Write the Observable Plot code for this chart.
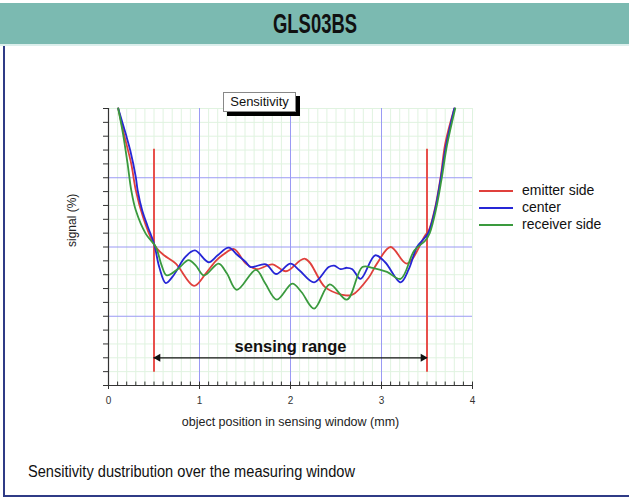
<!DOCTYPE html>
<html>
<head>
<meta charset="utf-8">
<script src="https://cdn.jsdelivr.net/npm/d3@7"></script>
<script src="https://cdn.jsdelivr.net/npm/@observablehq/plot@0.6"></script>
<style>
  body { margin: 0; width: 629px; height: 503px; position: relative; overflow: hidden; background: #fff; font-family: "Liberation Sans", Arial, sans-serif; }
  #header { position: absolute; left: 0; top: 3px; width: 629px; height: 41px; background: #7bbab1; border-bottom: 2px solid #dcefec; }
  #title { position: absolute; left: 50%; top: 50%; font-family: "Liberation Sans", Arial, sans-serif; font-weight: bold;
           font-size: 27px; color: #111; white-space: nowrap; line-height: 1; }
  #lborder { position: absolute; left: 3px; top: 46px; width: 2px; height: 451px; background: #2f3b86; }
  #bborder { position: absolute; left: 3px; top: 495px; width: 626px; height: 2px; background: #2f3b86; }
  #chart { position: absolute; left: 0; top: 50px; }
  #sbox { position: absolute; left: 223px; top: 92px; width: 71px; height: 18px; background: #fff; border: 1px solid #888;
          box-shadow: 4px 4px 0 #000; font-size: 13px; line-height: 18px; text-align: center; color: #111; }
  #legend { position: absolute; left: 479px; top: 182px; font-size: 14px; color: #111; }
  #legend .row { height: 17px; line-height: 17px; display: flex; align-items: center; }
  #legend .sw { width: 34px; height: 2px; margin-right: 9px; }
  #caption { position: absolute; left: 28px; top: 463px; font-family: "Liberation Sans", Arial, sans-serif;
             font-size: 16px; color: #111; white-space: nowrap; transform-origin: 0 0; }
</style>
</head>
<body>
<div id="header"><span id="title">GLS03BS</span></div>
<div id="lborder"></div>
<div id="bborder"></div>
<div id="chart"></div>
<div id="sbox">Sensitivity</div>
<div id="legend"></div>
<div id="caption">Sensitivity dustribution over the measuring window</div>
<script>
const seriesNames = ["emitter side", "center", "receiver side"];
const seriesColors = ["#e0403c", "#2626d6", "#3a9a3e"];

const emitterX = [0.107,0.17,0.25,0.30,0.38,0.48,0.53,0.61,0.74,0.94,1.07,1.18,1.27,1.38,1.51,1.63,1.80,1.95,2.16,2.38,2.57,2.68,2.86,2.95,3.10,3.28,3.48,3.52,3.59,3.65,3.70,3.80];
const emitterY = [4.0,3.63,3.2,2.82,2.43,2.09,1.98,1.88,1.76,1.44,1.62,1.80,1.90,1.97,1.76,1.68,1.75,1.65,1.83,1.42,1.31,1.31,1.56,1.76,2.0,1.76,2.17,2.24,2.57,3.01,3.49,4.0];

const centerX = [0.107,0.19,0.24,0.30,0.32,0.37,0.43,0.50,0.56,0.63,0.72,0.84,0.95,1.10,1.20,1.32,1.42,1.51,1.56,1.73,1.84,2.0,2.10,2.26,2.42,2.48,2.55,2.62,2.68,2.77,2.93,3.04,3.21,3.30,3.39,3.48,3.52,3.59,3.65,3.71,3.80];
const centerY = [4.0,3.63,3.39,3.01,2.82,2.53,2.30,2.05,1.70,1.48,1.60,1.85,1.95,1.78,1.88,1.99,1.88,1.78,1.71,1.75,1.61,1.76,1.66,1.49,1.71,1.73,1.68,1.70,1.68,1.54,1.88,1.78,1.49,1.68,2.0,2.14,2.22,2.55,2.98,3.47,4.0];

const receiverX = [0.107,0.16,0.21,0.25,0.30,0.41,0.52,0.58,0.64,0.76,0.88,0.96,1.05,1.21,1.30,1.41,1.62,1.72,1.85,2.02,2.12,2.26,2.43,2.62,2.79,2.90,3.06,3.21,3.36,3.48,3.53,3.60,3.66,3.72,3.81];
const receiverY = [4.0,3.63,3.20,2.82,2.53,2.19,2.0,1.75,1.59,1.68,1.81,1.73,1.59,1.76,1.62,1.38,1.67,1.48,1.24,1.47,1.35,1.11,1.46,1.24,1.71,1.70,1.64,1.54,1.95,2.09,2.20,2.55,2.98,3.47,4.0];

const xTicks = [0, 1, 2, 3, 4];
const majorGrid = [1, 2, 3];
const rangeEnds = [0.5, 3.5];
const rangeLineY = [0.19, 3.41];
const arrowY = 0.40;
const rangeLabel = "sensing range";
const rangeLabelY = 0.563;

const rows = [];
[[emitterX, emitterY], [centerX, centerY], [receiverX, receiverY]].forEach(([xs, ys], i) => {
  xs.forEach((x, j) => rows.push({series: seriesNames[i], x, y: ys[j]}));
});

const notMajor = v => !majorGrid.some(m => Math.abs(v - m) < 1e-6);
const minorX = d3.ticks(0, 4, 40).filter(notMajor);
const minorY = d3.ticks(0, 4, 20).filter(notMajor);

const chart = Plot.plot({
  width: 629,
  height: 380,
  marginLeft: 108,
  marginRight: 157,
  marginTop: 58,
  marginBottom: 45,
  style: {fontFamily: "'Liberation Sans', Arial, sans-serif", background: "transparent"},
  x: {domain: [0, 4]},
  y: {domain: [0, 4]},
  color: {domain: seriesNames, range: seriesColors},
  marks: [
    Plot.gridX(minorX, {stroke: "#e0f3e0", strokeOpacity: 1}),
    Plot.gridY(minorY, {stroke: "#e0f3e0", strokeOpacity: 1}),
    Plot.gridX(majorGrid, {stroke: "#9a9af4", strokeOpacity: 1}),
    Plot.gridY(majorGrid, {stroke: "#9a9af4", strokeOpacity: 1}),
    Plot.axisY({ticks: 20, tickSize: 5, tickFormat: () => "", stroke: "#333", label: null}),
    Plot.axisX(xTicks, {tickSize: 4, tickPadding: 7, fontSize: 10, fill: "#333", stroke: "#333", label: null}),
    Plot.ruleX(d3.ticks(0, 4, 40), {y1: 0, y2: 0.05, stroke: "#333"}),
    Plot.ruleX([0], {stroke: "#333", strokeWidth: 1.2}),
    Plot.ruleY([0], {stroke: "#333", strokeWidth: 1.2}),
    Plot.text(["object position in sensing window (mm)"], {frameAnchor: "bottom", dy: 40, fontSize: 12.5, fill: "#222"}),
    Plot.text(["signal (%)"], {frameAnchor: "left", rotate: -90, dx: -36, fontSize: 12, fill: "#222"}),
    Plot.ruleX(rangeEnds, {y1: rangeLineY[0], y2: rangeLineY[1], stroke: "#e8504c", strokeWidth: 2}),
    Plot.ruleY([arrowY], {x1: rangeEnds[0], x2: rangeEnds[1], stroke: "#111", strokeWidth: 1.2}),
    Plot.dot([rangeEnds[0]], {x: d => d, y: arrowY, symbol: "triangle", r: 3, fill: "#111", rotate: -90, dx: 4}),
    Plot.dot([rangeEnds[1]], {x: d => d, y: arrowY, symbol: "triangle", r: 3, fill: "#111", rotate: 90, dx: -4}),
    Plot.text([rangeLabel], {x: d3.mean(rangeEnds), y: rangeLabelY, fontSize: 16.5, fontWeight: "bold", fill: "#111"}),
    Plot.line(rows, {x: "x", y: "y", z: "series", stroke: "series", strokeWidth: 1.8, curve: "catmull-rom"})
  ]
});
document.getElementById("chart").appendChild(chart);

const legend = document.getElementById("legend");
seriesNames.forEach((name, i) => {
  const row = document.createElement("div");
  row.className = "row";
  const sw = document.createElement("span");
  sw.className = "sw";
  sw.style.background = seriesColors[i];
  const t = document.createElement("span");
  t.textContent = name;
  row.appendChild(sw);
  row.appendChild(t);
  legend.appendChild(row);
});

// condensed look for title and caption
const title = document.getElementById("title");
const tw = title.getBoundingClientRect().width;
title.style.transform = `translate(-50%, -50%) scaleX(${84 / tw})`;
const cap = document.getElementById("caption");
const cw = cap.getBoundingClientRect().width;
cap.style.transform = `scaleX(${327 / cw})`;
</script>
</body>
</html>
